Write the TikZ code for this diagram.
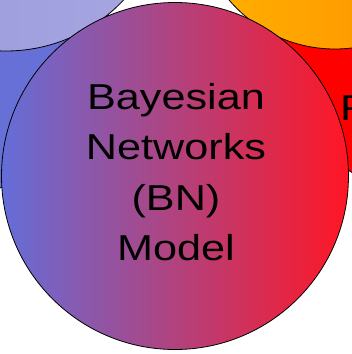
\documentclass[tikz,border=0pt]{standalone}
\usepackage{fontspec}
\setmainfont{Liberation Sans}
\newfontfamily\widesans[FakeStretch=1.2]{Liberation Sans}
\definecolor{bnleft}{RGB}{100,110,216}
\definecolor{bnmid}{RGB}{198,80,152}
\definecolor{bnright}{RGB}{255,22,36}
\definecolor{lavleft}{RGB}{152,154,220}
\definecolor{lavright}{RGB}{168,166,226}
\definecolor{bluefill}{RGB}{102,112,214}
\definecolor{orleft}{RGB}{255,178,0}
\definecolor{orright}{RGB}{255,140,0}
\definecolor{redfill}{RGB}{255,0,0}
\begin{document}
\begin{tikzpicture}[x=1pt,y=-1pt,
  bubble/.style={draw=black,line width=0.8pt},
  bntext/.style={font=\widesans\fontsize{36}{40}\selectfont, anchor=base, inner sep=0pt, text=black}]
\useasboundingbox (0,0) rectangle (352,354);
\clip (0,0) rectangle (352,354);
\fill[white] (0,0) rectangle (352,354);
% surrounding topic bubbles
\draw[bubble, fill=bluefill] (-60,30) circle (169pt);
\draw[bubble, left color=lavleft, right color=lavright] (6,-110) circle (161pt);
\draw[bubble, fill=redfill] (420,50) circle (140pt);
\draw[bubble, left color=orleft, right color=orright] (335,-90) circle (139pt);
% central bubble
\draw[bubble, left color=bnleft, middle color=bnmid, right color=bnright] (175,176) circle (173.5pt);
\node[bntext] (l1) at (176,109) {Bayesian};
\node[bntext] (l2) at (176,159) {Networks};
\node[bntext] (l3) at (176,210) {(BN)};
\node[bntext] (l4) at (176,260) {Model};
\node[bntext, anchor=base west] (f) at (340,120) {F};
\end{tikzpicture}
\end{document}
